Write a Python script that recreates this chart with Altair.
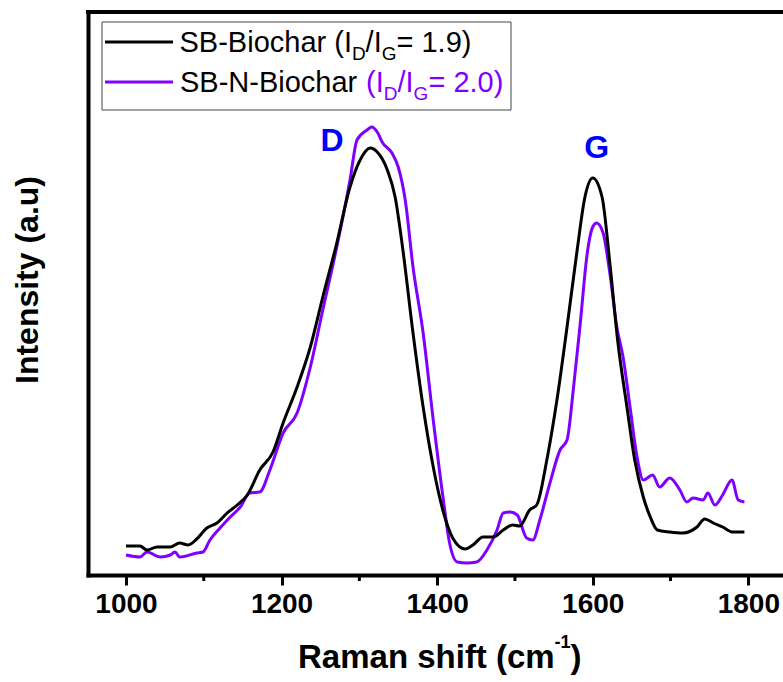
import altair as alt
import pandas as pd

# ---- data ----
sb_wn = [1000, 1018, 1027, 1040, 1057, 1069, 1080, 1091, 1104, 1117, 1130, 1143, 1156, 1172,
         1189, 1202, 1220, 1237, 1253, 1271, 1288, 1301, 1314, 1323, 1336, 1346, 1356, 1369,
         1382, 1395, 1408, 1420, 1436, 1446, 1459, 1472, 1485, 1497, 1506, 1519, 1528, 1541,
         1554, 1567, 1580, 1590, 1600, 1612, 1622, 1632, 1644, 1654, 1665, 1674, 1683, 1699,
         1716, 1734, 1744, 1755, 1767, 1780, 1795]
sb_int = [27, 27, 23, 26, 26, 30, 28, 34, 45, 50, 60, 68, 78, 103,
          121, 150, 186, 226, 276, 330, 386, 413, 425, 421, 403, 376, 323, 240,
          166, 106, 61, 35, 24, 28, 36, 36, 43, 48, 47, 63, 68, 113,
          173, 246, 323, 376, 395, 376, 310, 233, 166, 113, 76, 56, 43, 41,
          40, 46, 54, 50, 46, 41, 41]

sbn_wn = [1000, 1018, 1027, 1044, 1057, 1063, 1069, 1091, 1099, 1108, 1121, 1134, 1147, 1159,
          1172, 1185, 1202, 1220, 1237, 1253, 1271, 1288, 1297, 1310, 1316, 1323, 1330, 1342,
          1350, 1359, 1369, 1382, 1395, 1408, 1416, 1426, 1438, 1451, 1464, 1477, 1485, 1494,
          1503, 1515, 1523, 1532, 1545, 1558, 1567, 1575, 1584, 1593, 1600, 1605, 1613, 1622,
          1631, 1639, 1648, 1657, 1665, 1677, 1686, 1699, 1712, 1721, 1729, 1742, 1748, 1757,
          1767, 1779, 1787, 1795]
sbn_int = [18, 16, 21, 16, 18, 21, 16, 20, 21, 33, 45, 56, 66, 80,
           81, 103, 140, 160, 206, 263, 326, 393, 433, 443, 446, 441, 430, 420,
           406, 373, 306, 240, 153, 73, 30, 11, 10, 11, 23, 43, 60, 61,
           58, 35, 33, 53, 90, 123, 133, 183, 250, 320, 346, 350, 341, 300,
           246, 216, 166, 116, 93, 98, 86, 95, 83, 71, 75, 73, 80, 68,
           78, 93, 73, 71]

major_ticks = [1000, 1200, 1400, 1600, 1800]
minor_ticks = [1100, 1300, 1500, 1700]
peak_names = ["D", "G"]
peak_wn = [1265, 1605]
peak_int = [432, 425]

BLACK = "#000000"
PURPLE = "#8000ff"
BLUE = "#0000ff"
FONT = "Liberation Sans"

W, H = 695, 563
X_DOM = [951.2, 1844.6]
Y_DOM = [-2, 561]

xs = alt.Scale(domain=X_DOM, nice=False, zero=False)
ys = alt.Scale(domain=Y_DOM, nice=False, zero=False)

df_sb = pd.DataFrame({"wn": sb_wn, "intensity": sb_int})
df_sbn = pd.DataFrame({"wn": sbn_wn, "intensity": sbn_int})
df_minor = pd.DataFrame({"wn": minor_ticks})
df_peaks = pd.DataFrame({"wn": peak_wn, "intensity": peak_int, "name": peak_names})
one = pd.DataFrame({"k": [0]})

x_axis = alt.Axis(values=major_ticks, format="d", tickSize=10, tickWidth=3, tickColor=BLACK,
                  domainWidth=4, domainColor=BLACK, domainCap="square",
                  labelFont=FONT, labelFontWeight="bold", labelFontSize=28,
                  labelColor=BLACK, labelPadding=5, grid=False, title="")
y_axis = alt.Axis(ticks=False, labels=False, grid=False, domainWidth=4,
                  domainColor=BLACK, domainCap="square", title="")

line_sbn = alt.Chart(df_sbn).mark_line(color=PURPLE, strokeWidth=3, interpolate="monotone").encode(
    x=alt.X("wn:Q", scale=xs, axis=x_axis),
    y=alt.Y("intensity:Q", scale=ys, axis=y_axis),
)
line_sb = alt.Chart(df_sb).mark_line(color=BLACK, strokeWidth=3, interpolate="monotone").encode(
    x=alt.X("wn:Q", scale=xs),
    y=alt.Y("intensity:Q", scale=ys),
)
minor = alt.Chart(df_minor).mark_rule(color=BLACK, strokeWidth=3).encode(
    x=alt.X("wn:Q", scale=xs),
    y=alt.value(H),
    y2=alt.value(H + 6),
)
top_border = alt.Chart(one).mark_rule(color=BLACK, strokeWidth=4).encode(
    x=alt.value(-2), x2=alt.value(W), y=alt.value(0)
)
peaks = alt.Chart(df_peaks).mark_text(
    font=FONT, fontWeight="bold", fontSize=32, color=BLUE, align="center", baseline="middle"
).encode(
    x=alt.X("wn:Q", scale=xs),
    y=alt.Y("intensity:Q", scale=ys),
    text="name:N",
)

# legend
legend_box = alt.Chart(one).mark_rect(fillOpacity=0, stroke="#444444", strokeWidth=1).encode(
    x=alt.value(14), x2=alt.value(423), y=alt.value(10), y2=alt.value(98)
)
leg_line1 = alt.Chart(one).mark_rule(color=BLACK, strokeWidth=3).encode(
    x=alt.value(17), x2=alt.value(85), y=alt.value(30)
)
leg_line2 = alt.Chart(one).mark_rule(color=PURPLE, strokeWidth=3).encode(
    x=alt.value(17), x2=alt.value(85), y=alt.value(70)
)


def txt(s, x, y, size, color=BLACK, weight="normal", angle=0, align="left"):
    kw = dict(text=s, font=FONT, fontSize=size, color=color, fontWeight=weight,
              align=align, baseline="alphabetic")
    if angle:
        kw["angle"] = angle
    return alt.Chart(one).mark_text(**kw).encode(x=alt.value(x), y=alt.value(y))


texts = [
    txt("SB-Biochar (I", 91.5, 40, 29),
    txt("D", 263.9, 48, 19),
    txt("/I", 277.6, 40, 29),
    txt("G", 293.7, 48, 19),
    txt("= 1.9)", 308.5, 40, 29),
    txt("SB-N-Biochar", 92, 80, 29),
    txt("(I", 278, 80, 29, PURPLE),
    txt("D", 295.7, 88, 19, PURPLE),
    txt("/I", 309.4, 80, 29, PURPLE),
    txt("G", 325.6, 88, 19, PURPLE),
    txt("= 2.0)", 340.4, 80, 29, PURPLE),
    # x-axis title
    txt("Raman shift (cm", 210, 656, 33, weight="bold"),
    txt("-1", 466.5, 636, 18, weight="bold"),
    txt(")", 482.5, 656, 33, weight="bold"),
    # y-axis title
    txt("Intensity (a.u)", -49.7, 268, 32, weight="bold", angle=270, align="center"),
]

chart = alt.layer(
    line_sbn, line_sb, minor, top_border, peaks,
    legend_box, leg_line1, leg_line2, *texts
).properties(
    width=W, height=H,
    autosize=alt.AutoSizeParams(type="none"),
    padding={"left": 88, "top": 12, "right": 0, "bottom": 105},
    background="white",
).configure_view(stroke="transparent")

chart.save("out.html", embed_options={"renderer": "svg", "actions": False})
